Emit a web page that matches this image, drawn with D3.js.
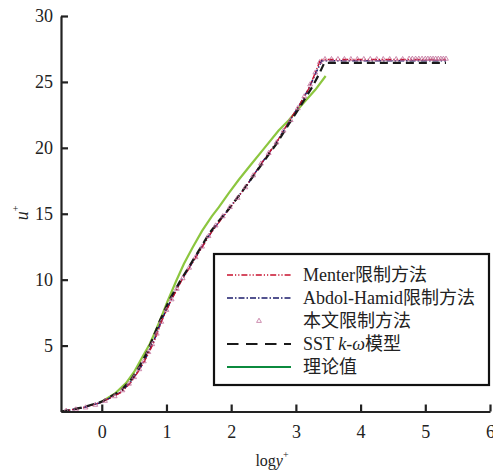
<!DOCTYPE html>
<html><head><meta charset="utf-8">
<script src="https://cdn.jsdelivr.net/npm/d3@7"></script>
<style>
html,body{margin:0;padding:0;background:#fff;}
svg text{font-family:"Liberation Serif","Times New Roman","Noto Sans CJK SC",serif !important;}
</style></head>
<body><svg id="c" width="493" height="472"></svg>
<script>
// ---- data (log y+, u+) ----
const xTicks = [0,1,2,3,4,5,6];
const yTicks = [5,10,15,20,25,30];
const seriesNames = ["Menter限制方法","Abdol-Hamid限制方法","本文限制方法","SST k-ω模型","理论值"];

const menter = [[-0.63,0.0],[-0.3,0.28],[0,0.7],[0.3,1.45],[0.45,2.2],[0.6,3.3],[0.7,4.2],[0.8,5.2],[0.93,6.9],[1.08,8.5],[1.23,9.9],[1.38,11.1],[1.53,12.3],[1.68,13.5],[1.82,14.4],[1.99,15.5],[2.22,17.0],[2.48,18.9],[2.7,20.4],[2.88,21.9],[3.05,23.2],[3.2,24.5],[3.3,25.7],[3.38,26.7],[5.32,26.7]];
const abdol = [[-0.63,0.0],[-0.3,0.27],[0,0.7],[0.3,1.48],[0.45,2.25],[0.6,3.35],[0.7,4.25],[0.8,5.3],[0.93,7.0],[1.08,8.55],[1.23,9.95],[1.38,11.15],[1.53,12.35],[1.68,13.5],[1.82,14.45],[1.99,15.55],[2.22,17.0],[2.48,18.9],[2.7,20.4],[2.88,21.85],[3.05,23.2],[3.2,24.5],[3.31,25.7],[3.4,26.6],[5.32,26.6]];
const sst = [[-0.63,0.0],[-0.3,0.3],[0,0.75],[0.3,1.6],[0.45,2.4],[0.58,3.4],[0.68,4.3],[0.76,5.2],[0.9,6.9],[1.05,8.5],[1.2,9.8],[1.35,11.0],[1.5,12.2],[1.66,13.5],[1.8,14.4],[1.97,15.4],[2.2,16.9],[2.48,18.8],[2.7,20.3],[2.89,21.8],[3.05,23.0],[3.25,24.6],[3.36,25.6],[3.44,26.45],[5.32,26.45]];
const theory = [[0,0.75],[0.2,1.35],[0.375,2.15],[0.5,3.0],[0.63,4.15],[0.74,5.1],[0.84,6.2],[0.94,7.4],[1.02,8.4],[1.15,9.9],[1.27,11.2],[1.4,12.4],[1.55,13.7],[1.7,14.8],[1.81,15.5],[1.96,16.55],[2.12,17.6],[2.3,18.7],[2.5,19.9],[2.73,21.3],[2.89,22.1],[3.1,23.3],[3.3,24.4],[3.46,25.45]];
const present = [[-0.55,0.05],[-0.4,0.15],[-0.25,0.3],[-0.1,0.5],[0.05,0.8],[0.2,1.15],[0.32,1.6],[0.42,2.1],[0.5,2.6],[0.58,3.2],[0.65,3.8],[0.72,4.5],[0.78,5.1],[0.85,5.9],[0.92,6.8],[1.0,7.7],[1.08,8.5],[1.16,9.3],[1.25,10.1],[1.35,10.9],[1.45,11.7],[1.55,12.5],[1.65,13.3],[1.76,14.1],[1.87,14.8],[1.98,15.5],[2.1,16.2],[2.22,17.0],[2.34,17.9],[2.46,18.8],[2.58,19.6],[2.7,20.4],[2.81,21.3],[2.92,22.1],[3.03,23.0],[3.13,23.9],[3.22,24.8],[3.3,25.7],[3.37,26.5],[3.45,26.72],[3.55,26.72],[3.65,26.72],[3.75,26.72],[3.85,26.72],[3.95,26.72],[4.05,26.72],[4.15,26.72],[4.25,26.72],[4.35,26.72],[4.45,26.72],[4.55,26.72],[4.65,26.72],[4.75,26.75],[4.8,26.75],[4.85,26.75],[4.9,26.75],[4.95,26.75],[5.0,26.75],[5.04,26.75],[5.08,26.75],[5.12,26.75],[5.16,26.75],[5.2,26.75],[5.24,26.75],[5.28,26.75],[5.32,26.75]];

// ---- drawing ----
const svg = d3.select("#c");
const x = d3.scaleLinear().domain([-0.63, 6]).range([61, 490]);
const y = d3.scaleLinear().domain([0, 30]).range([411.5, 16]);
const line = d3.line().x(d=>x(d[0])).y(d=>y(d[1]));

const colors = {menter:"#c8102e", abdol:"#1b1b6b", present:"#c0709a", sst:"#1a1a1a", theory:"#8cc63f", theoryLegend:"#0b8a3e"};

svg.append("path").datum(theory).attr("d",line).attr("fill","none").attr("stroke",colors.theory).attr("stroke-width",2.2);
svg.append("path").datum(abdol).attr("d",line).attr("fill","none").attr("stroke",colors.abdol).attr("stroke-width",1.6).attr("stroke-dasharray","6,2,1.5,2");
svg.append("path").datum(menter).attr("d",line).attr("fill","none").attr("stroke",colors.menter).attr("stroke-width",1.4).attr("stroke-dasharray","6,2,1.2,2,1.2,2");
svg.append("path").datum(sst).attr("d",line).attr("fill","none").attr("stroke",colors.sst).attr("stroke-width",2.2).attr("stroke-dasharray","8,5");
const tri = d3.symbol().type(d3.symbolTriangle).size(10);
svg.append("g").selectAll("path").data(present).join("path")
  .attr("d",tri).attr("transform",d=>`translate(${x(d[0])},${y(d[1])})`)
  .attr("fill","none").attr("stroke",colors.present).attr("stroke-width",0.8);

// axes
const xAxis = d3.axisBottom(x).tickValues(xTicks).tickSizeInner(-7).tickSizeOuter(0).tickPadding(14).tickFormat(d3.format("d"));
const gx = svg.append("g").attr("transform",`translate(0,${y(0)})`).call(xAxis);
const yAxis = d3.axisLeft(y).tickValues(yTicks).tickSizeInner(-7).tickSizeOuter(0).tickPadding(8).tickFormat(d3.format("d"));
const gy = svg.append("g").attr("transform",`translate(${x(-0.63)},0)`).call(yAxis);
[gx,gy].forEach(g=>{
  g.attr("font-family",null);
  g.select(".domain").attr("stroke","#222").attr("stroke-width",2.2);
  g.selectAll(".tick line").attr("stroke","#222").attr("stroke-width",2.2);
  g.selectAll(".tick text").attr("font-size",18).attr("fill","#222");
});

// axis titles
const xl = svg.append("text").attr("x",272).attr("y",466).attr("text-anchor","middle").attr("font-size",16).attr("fill","#222");
xl.append("tspan").text("log");
xl.append("tspan").attr("font-style","italic").text("y");
xl.append("tspan").attr("font-size",10).attr("dy",-8).text("+");
const yl = svg.append("text").attr("transform","translate(28,213) rotate(-90)").attr("text-anchor","middle").attr("font-size",18).attr("fill","#222");
yl.append("tspan").attr("font-style","italic").text("u");
yl.append("tspan").attr("font-size",10).attr("dy",-9).text("+");

// legend
const lg = svg.append("g");
lg.append("rect").attr("x",214).attr("y",254).attr("width",275).attr("height",131).attr("fill","#fff").attr("stroke","#111").attr("stroke-width",2.2);
const rowsY = [275,298,321,344,367];
const lx0 = 227, lx1 = 291, tx = 303;
lg.append("line").attr("x1",lx0).attr("x2",lx1).attr("y1",rowsY[0]).attr("y2",rowsY[0]).attr("stroke",colors.menter).attr("stroke-width",1.6).attr("stroke-dasharray","6,2,1.2,2,1.2,2");
lg.append("line").attr("x1",lx0).attr("x2",lx1).attr("y1",rowsY[1]).attr("y2",rowsY[1]).attr("stroke",colors.abdol).attr("stroke-width",1.6).attr("stroke-dasharray","6,2,1.5,2");
lg.append("path").attr("d",tri).attr("transform",`translate(${(lx0+lx1)/2},${rowsY[2]})`).attr("fill","none").attr("stroke",colors.present).attr("stroke-width",0.8);
lg.append("line").attr("x1",lx0).attr("x2",lx1).attr("y1",rowsY[3]).attr("y2",rowsY[3]).attr("stroke",colors.sst).attr("stroke-width",2).attr("stroke-dasharray","11.5,7.5");
lg.append("line").attr("x1",lx0).attr("x2",lx1).attr("y1",rowsY[4]).attr("y2",rowsY[4]).attr("stroke",colors.theoryLegend).attr("stroke-width",2.2);
seriesNames.forEach((n,i)=>{
  const t = lg.append("text").attr("x",tx).attr("y",rowsY[i]+6).attr("font-size",18).attr("fill","#222");
  if(n.startsWith("SST")){
    t.append("tspan").text("SST ");
    t.append("tspan").attr("font-style","italic").text("k-ω");
    t.append("tspan").text("模型");
  } else t.text(n);
});
</script></body></html>
